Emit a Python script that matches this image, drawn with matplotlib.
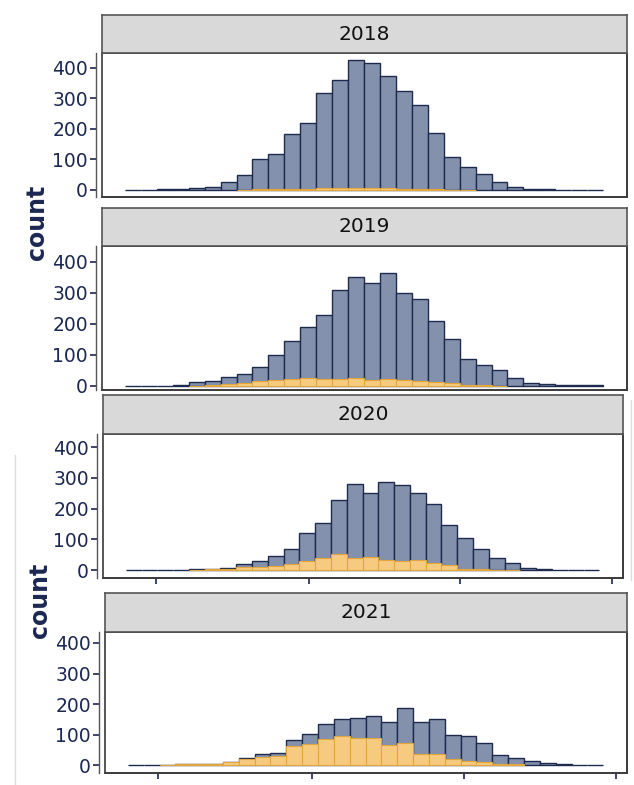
import matplotlib
matplotlib.use("Agg")
import matplotlib.pyplot as plt
from matplotlib.patches import Rectangle
from matplotlib.lines import Line2D
import numpy as np

W, H = 634, 785

years = ["2018", "2019", "2020", "2021"]
bins = np.arange(30)  # bin index (left edges), bin width 1

total_2018 = [1, 1, 2, 3, 6, 9, 26, 48, 102, 119, 183, 218, 318, 359, 427,
              415, 372, 326, 278, 188, 108, 76, 54, 26, 10, 4, 2, 1, 1, 1]
sub_2018 = [0, 0, 0, 0, 0, 0, 0, 1, 2, 2, 3, 4, 5, 5, 6,
            5, 5, 4, 3, 2, 1, 1, 0, 0, 0, 0, 0, 0, 0, 0]

total_2019 = [1, 1, 1, 2, 14, 15, 28, 38, 61, 99, 146, 189, 229, 308, 350,
              333, 363, 299, 279, 210, 151, 86, 68, 51, 25, 10, 5, 4, 3, 2]
sub_2019 = [0, 0, 0, 0, 1, 2, 5, 10, 15, 20, 22, 27, 22, 22, 26,
            20, 24, 18, 15, 12, 8, 4, 2, 1, 0, 0, 0, 0, 0, 0]

total_2020 = [0, 0, 1, 1, 2, 3, 5, 20, 29, 45, 68, 120, 152, 228, 280,
              251, 288, 276, 251, 216, 145, 105, 68, 40, 24, 8, 3, 1, 1, 1]
sub_2020 = [0, 0, 0, 0, 1, 2, 3, 9, 11, 13, 18, 30, 40, 51, 40,
            42, 33, 29, 34, 22, 15, 3, 2, 1, 1, 0, 0, 0, 0, 0]

total_2021 = [0, 0, 1, 3, 2, 3, 11, 22, 36, 39, 83, 103, 134, 150, 155,
              161, 142, 186, 141, 152, 97, 96, 71, 32, 24, 14, 7, 2, 1, 1]
sub_2021 = [0, 0, 1, 2, 2, 3, 11, 20, 28, 30, 61, 68, 87, 96, 89,
            88, 67, 71, 37, 35, 20, 12, 11, 4, 2, 0, 0, 0, 0, 0]

totals = [total_2018, total_2019, total_2020, total_2021]
subs = [sub_2018, sub_2019, sub_2020, sub_2021]

yticks = [0, 100, 200, 300, 400]

NAVY = "#1c2752"
BLUE_FILL = "#8391ad"
BLUE_EDGE = "#1e2b4f"
YEL_FILL = "#f6cb80"
YEL_EDGE = "#e3a63c"
STRIP_FILL = "#d9d9d9"
BORDER = "#3a3a3a"

fig = plt.figure(figsize=(W / 100, H / 100), dpi=100)
fig.patch.set_facecolor("white")


def rect(x0, y_top, x1, y_bot):
    return [x0 / W, 1 - y_bot / H, (x1 - x0) / W, (y_bot - y_top) / H]


# (x0, x1, strip_top, strip_bottom/plot_top, plot_bottom, ylim, show_xticks)
layout = [
    (102, 627, 15, 53, 197, (-23, 449), False),
    (102, 627, 208, 246, 390, (-13, 451), False),
    (103, 623, 395, 434, 578, (-26, 443), True),
    (105, 627, 593, 632, 773, (-26, 436), True),
]

for i, (x0, x1, st, pt, pb, ylim, showx) in enumerate(layout):
    ax = fig.add_axes(rect(x0, pt, x1, pb))
    ax.bar(bins, totals[i], width=1, align="edge", color=BLUE_FILL,
           edgecolor=BLUE_EDGE, linewidth=1.0, zorder=2)
    sub = np.array(subs[i])
    m = sub > 0
    ax.bar(bins[m], sub[m], width=1, align="edge", color=YEL_FILL,
           edgecolor=YEL_EDGE, linewidth=0.8, zorder=3)
    ax.set_xlim(-1.44, 31.5)
    ax.set_ylim(*ylim)
    ax.set_yticks(yticks)
    ax.set_yticklabels([str(v) for v in yticks])
    ax.tick_params(axis="y", length=4, width=1.2, color=NAVY, pad=2,
                   labelsize=13.5, labelcolor=NAVY)
    if showx:
        ax.set_xticks([1.9, 11.6, 21.2, 30.8])
        ax.set_xticklabels([])
        ax.tick_params(axis="x", length=4, width=1.2, color=NAVY)
    else:
        ax.set_xticks([])
    for s in ["top", "right", "bottom"]:
        ax.spines[s].set_color(BORDER)
        ax.spines[s].set_linewidth(1.2)
    ax.spines["left"].set_position(("outward", 4))
    ax.spines["left"].set_color("#555555")
    ax.spines["left"].set_linewidth(1.0)
    ax.add_patch(Rectangle((0, 0), 1, 1, transform=ax.transAxes, fill=False,
                           edgecolor=BORDER, linewidth=1.2, clip_on=False,
                           zorder=5))
    # strip
    sax = fig.add_axes(rect(x0, st, x1, pt))
    sax.set_facecolor(STRIP_FILL)
    sax.set_xticks([])
    sax.set_yticks([])
    for s in sax.spines.values():
        s.set_color("#555555")
        s.set_linewidth(1.2)
    sax.text(0.5, 0.5, years[i], transform=sax.transAxes, ha="center",
             va="center", fontsize=14.5, color="#111111")

# y-axis titles
fig.text(37 / W, 1 - 222 / H, "count", rotation=90, ha="center", va="center",
         fontsize=17, fontweight="bold", color=NAVY)
fig.text(40 / W, 1 - 600 / H, "count", rotation=90, ha="center", va="center",
         fontsize=17, fontweight="bold", color=NAVY)

# faint screenshot edge lines
fig.add_artist(Line2D([15 / W, 15 / W], [1 - 455 / H, 0], color="#dddddd",
                      linewidth=1.0))
fig.add_artist(Line2D([631 / W, 631 / W], [1 - 400 / H, 1 - 580 / H],
                      color="#dddddd", linewidth=1.0))

fig.savefig("out.png", dpi=100)
